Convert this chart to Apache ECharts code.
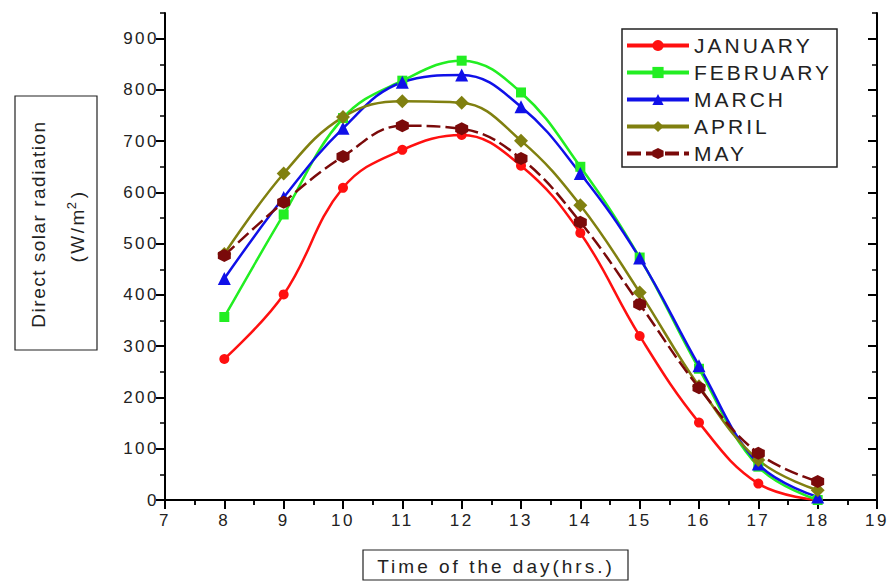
<!DOCTYPE html>
<html><head><meta charset="utf-8">
<script src="https://cdn.jsdelivr.net/npm/echarts@6/dist/echarts.min.js"></script>
<style>html,body{margin:0;padding:0;background:#fff}#main{width:892px;height:582px;letter-spacing:2.5px}</style>
</head><body><div id="main"></div>
<script>
// ---- data ----
const hours = [8, 9, 10, 11, 12, 13, 14, 15, 16, 17, 18];
const january  = [275, 401, 609, 683, 712, 652, 521, 320, 151, 32, 0];
const february = [357, 557, 745, 818, 857, 795, 650, 473, 256, 65, 0];
const march    = [432, 590, 725, 815, 829, 767, 637, 472, 262, 70, 6];
const april    = [480, 637, 747, 778, 775, 701, 575, 405, 222, 78, 19];
const may      = [477, 581, 670, 730, 724, 666, 542, 382, 219, 91, 36];
const seriesNames = ['JANUARY', 'FEBRUARY', 'MARCH', 'APRIL', 'MAY'];
const xMin = 7, xMax = 19, xStep = 1;
const yMin = 0, yMax = 950, yStep = 100;
const yMajorTicks = [0, 100, 200, 300, 400, 500, 600, 700, 800, 900];
const xTitle = 'Time of the day(hrs.)';
const yTitle1 = 'Direct solar radiation';

const FONT = 'Liberation Sans, Arial, sans-serif';
const pair = arr => hours.map((h, i) => [h, arr[i]]);
const hexagon = 'path://M0,-10 L8.66,-5 L8.66,5 L0,10 L-8.66,5 L-8.66,-5 Z';

const styles = [
  {data: january,  color: '#ff1010', symbol: 'circle',   size: 10, type: 'solid'},
  {data: february, color: '#22ee22', symbol: 'rect',     size: 10, type: 'solid'},
  {data: march,    color: '#1010e8', symbol: 'triangle', size: 13, type: 'solid'},
  {data: april,    color: '#808010', symbol: 'diamond',  size: 14, type: 'solid'},
  {data: may,      color: '#7a0a0a', symbol: hexagon,    size: 13, type: [14, 5]}
];

const chart = echarts.init(document.getElementById('main'), null, {renderer: 'svg'});

const axisLineStyle = {show: true, lineStyle: {color: '#000', width: 2}};
const xBase = {type: 'value', min: xMin, max: xMax, interval: xStep, splitLine: {show: false}};
const yBase = {type: 'value', min: yMin, max: yMax, splitLine: {show: false}};

chart.setOption({
  animation: false,
  backgroundColor: '#fff',
  textStyle: {fontFamily: FONT},
  grid: {left: 165, right: 15, top: 13, bottom: 82, containLabel: false},
  xAxis: [
    Object.assign({}, xBase, {
      position: 'bottom',
      axisLine: axisLineStyle,
      axisTick: {show: true, inside: false, length: 9, lineStyle: {color: '#000', width: 2}},
      minorTick: {show: true, splitNumber: 2, length: 5, lineStyle: {color: '#000', width: 1.5}},
      axisLabel: {fontSize: 17, color: '#222', margin: 12, fontFamily: FONT}
    }),
    Object.assign({}, xBase, {
      position: 'top',
      axisLine: axisLineStyle,
      axisTick: {show: true, inside: true, length: 8, lineStyle: {color: '#000', width: 2}},
      minorTick: {show: true, splitNumber: 2, length: 5, lineStyle: {color: '#000', width: 1.5}},
      axisLabel: {show: false}
    })
  ],
  yAxis: [
    Object.assign({}, yBase, {
      position: 'left', interval: yStep / 2,
      axisLine: axisLineStyle,
      axisTick: {show: true, inside: false, length: 5, lineStyle: {color: '#000', width: 1.5}},
      axisLabel: {fontSize: 17, color: '#222', margin: 6, fontFamily: FONT,
        formatter: v => (yMajorTicks.indexOf(v) >= 0 ? String(v) : '')}
    }),
    Object.assign({}, yBase, {
      position: 'left', interval: yStep,
      axisLine: {show: false},
      axisTick: {show: true, inside: false, length: 9, customValues: yMajorTicks, lineStyle: {color: '#000', width: 2}},
      axisLabel: {show: false}
    }),
    Object.assign({}, yBase, {
      position: 'right', interval: yStep / 2,
      axisLine: axisLineStyle,
      axisTick: {show: true, inside: true, length: 5, lineStyle: {color: '#000', width: 1.5}},
      axisLabel: {show: false}
    }),
    Object.assign({}, yBase, {
      position: 'right', interval: yStep,
      axisLine: {show: false},
      axisTick: {show: true, inside: true, length: 9, customValues: yMajorTicks, lineStyle: {color: '#000', width: 2}},
      axisLabel: {show: false}
    })
  ],
  legend: {
    orient: 'vertical', left: 625, top: 35, padding: 0,
    itemWidth: 62, itemHeight: 14, itemGap: 6,
    selectedMode: false,
    lineStyle: {width: 4},
    textStyle: {fontSize: 21, color: '#222', fontFamily: FONT},
    data: seriesNames
  },
  series: styles.map((s, i) => ({
    name: seriesNames[i],
    type: 'line',
    xAxisIndex: 0, yAxisIndex: 0,
    smooth: 0.4,
    data: pair(s.data),
    symbol: s.symbol,
    symbolSize: s.size,
    showAllSymbol: true,
    color: s.color,
    itemStyle: {color: s.color},
    lineStyle: {color: s.color, width: 2.5, type: s.type}
  })),
  graphic: [
    {type: 'rect', shape: {x: 622, y: 29, width: 215, height: 138},
     style: {fill: 'none', stroke: '#222', lineWidth: 1.5}, silent: true},
    {type: 'rect', shape: {x: 363, y: 550, width: 265, height: 30},
     style: {fill: 'none', stroke: '#222', lineWidth: 1.2}, silent: true},
    {type: 'text', x: 496, y: 566,
     style: {text: xTitle, fontSize: 19, fill: '#222', fontFamily: FONT, align: 'center', verticalAlign: 'middle'}},
    {type: 'rect', shape: {x: 15, y: 96, width: 82, height: 254},
     style: {fill: 'none', stroke: '#222', lineWidth: 1.2}, silent: true},
    {type: 'text', x: 38, y: 224, rotation: Math.PI / 2,
     style: {text: yTitle1, fontSize: 19, fill: '#222', fontFamily: FONT, align: 'center', verticalAlign: 'middle'}},
    {type: 'text', x: 76, y: 224, rotation: Math.PI / 2,
     style: {text: '{n|(W/m}{s|2}{n|)}', fill: '#222', fontFamily: FONT, align: 'center', verticalAlign: 'middle',
       rich: {
         n: {fontSize: 19, lineHeight: 22, verticalAlign: 'bottom', fontFamily: FONT, fill: '#222'},
         s: {fontSize: 13, lineHeight: 12, verticalAlign: 'top', fontFamily: FONT, fill: '#222', padding: [0, 4, 0, 4]}
       }}}
  ]
});

// letter spacing adjustments (text stays as real text)
document.querySelectorAll('#main svg text').forEach(t => {
  const s = t.textContent;
  if (seriesNames.indexOf(s) >= 0 || s === xTitle) t.style.letterSpacing = '3px';
  else if (s === yTitle1) t.style.letterSpacing = '1.5px';
});
</script>
</body></html>
